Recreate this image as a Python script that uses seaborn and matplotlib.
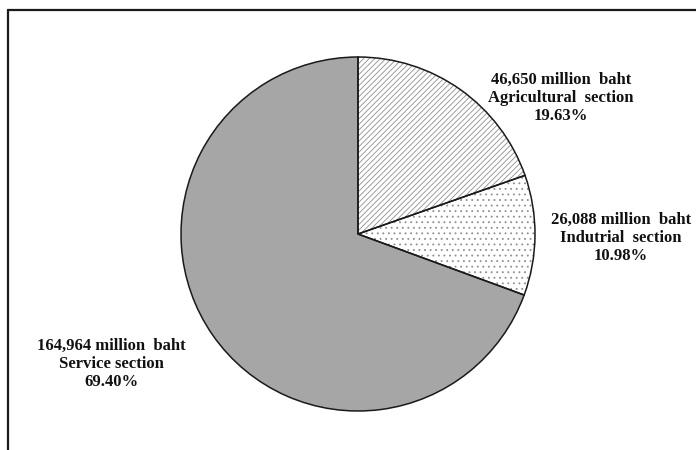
import matplotlib
matplotlib.use("Agg")
import matplotlib.pyplot as plt
from matplotlib.lines import Line2D
import seaborn as sns

# Gross provincial product by economic section (million baht)
sections = ["Agricultural  section", "Indutrial  section", "Service section"]
values = [46650, 26088, 164964]
value_labels = ["46,650 million  baht", "26,088 million  baht", "164,964 million  baht"]
percent_labels = ["19.63%", "10.98%", "69.40%"]

sns.set_theme(style="white")
plt.rcParams["font.family"] = ["Liberation Serif", "DejaVu Serif"]
plt.rcParams["hatch.linewidth"] = 0.6

W, H = 696, 450
fig = plt.figure(figsize=(W / 100, H / 100), dpi=100)
ax = fig.add_axes([0, 0, 1, 1])

center = (358, H - 234)
radius = 177
face = ["white", "white", "#a6a6a6"]
hatches = ["//////", "...", None]

# patterned fills (pattern drawn in grey), then crisp black outlines on top
wedges, _ = ax.pie(values, startangle=90, counterclock=False, center=center,
                   radius=radius, colors=face,
                   wedgeprops=dict(linewidth=0, edgecolor="#8f8f8f"))
for w, h in zip(wedges, hatches):
    if h:
        w.set_hatch(h)
ax.pie(values, startangle=90, counterclock=False, center=center, radius=radius,
       wedgeprops=dict(fill=False, linewidth=1.1, edgecolor="#1a1a1a"))

ax.set_xlim(0, W)
ax.set_ylim(0, H)
ax.set_aspect("equal")
ax.axis("off")

label_pos = [(561, 98), (621, 238), (111, 364)]
for (x, y), v, s, p in zip(label_pos, value_labels, sections, percent_labels):
    ax.text(x, H - y, f"{v}\n{s}\n{p}", ha="center", va="center",
            fontsize=12, fontweight="bold", color="#111111", linespacing=1.2)

# outer frame (left and top edges)
fig.add_artist(Line2D([8 / W, 8 / W], [0, 1 - 10 / H], transform=fig.transFigure,
                      color="#1a1a1a", linewidth=1.6))
fig.add_artist(Line2D([8 / W, 1], [1 - 10 / H, 1 - 10 / H], transform=fig.transFigure,
                      color="#1a1a1a", linewidth=1.6))

fig.savefig("out.png", dpi=100, facecolor="white")
